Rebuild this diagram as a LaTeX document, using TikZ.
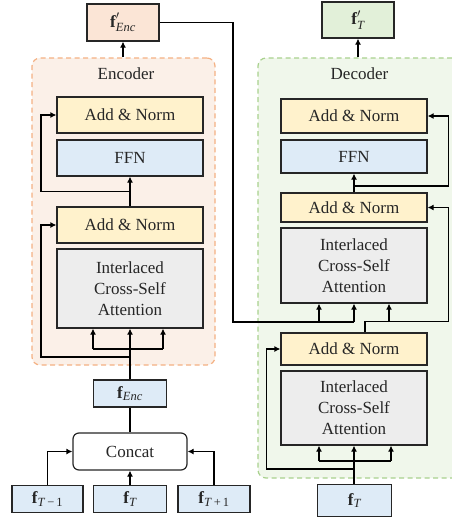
\documentclass[tikz,border=0pt]{standalone}
\usepackage{amsmath}
\usepackage{fontspec}
\setmainfont{Liberation Serif}
\usetikzlibrary{arrows.meta,calc}
\DeclareMathSizes{17}{17}{12.5}{10}

\definecolor{ink}{HTML}{262626}
\definecolor{normfill}{HTML}{FFF2CC}
\definecolor{ffnfill}{HTML}{DEEBF7}
\definecolor{attfill}{HTML}{EDEDED}
\definecolor{encbg}{HTML}{FBF0E8}
\definecolor{encline}{HTML}{F4B183}
\definecolor{encout}{HTML}{FBE5D6}
\definecolor{decbg}{HTML}{F0F7EB}
\definecolor{decline}{HTML}{A9D18E}
\definecolor{decout}{HTML}{E2F0D9}

% feature symbols: bold f with an italic subscript
\newcommand{\feat}[2]{$\text{\bfseries f}#1_{\text{\itshape #2}}$}

\tikzset{
  every node/.style={font=\fontsize{17}{21}\selectfont, text=ink},
  blk/.style={draw=ink, line width=1.2pt, rectangle, inner sep=0pt, align=center},
  normblk/.style={blk, fill=normfill, minimum width=146pt},
  ffnblk/.style={blk, fill=ffnfill, minimum width=146pt},
  attblk/.style={blk, fill=attfill, minimum width=146pt},
  featblk/.style={blk, fill=ffnfill},
  container/.style={rectangle, rounded corners=8pt, line width=1.2pt, dash pattern=on 5pt off 3.5pt, inner sep=0pt},
  ln/.style={draw=black, line width=1.3pt},
  arr/.style={ln, -{Latex[length=6pt,width=6pt]}},
}

\begin{document}
\begin{tikzpicture}[x=1pt, y=-1pt]
\useasboundingbox (0,0) rectangle (452,522);

% ---------------- Encoder ----------------
\node[container, draw=encline, fill=encbg, minimum width=183pt, minimum height=307pt] (enc) at (123.5,211.5) {};
\node (enclbl) at (126,74) {Encoder};
\node[normblk, minimum height=36pt] (an1) at (130,115) {Add \& Norm};
\node[ffnblk, minimum height=36pt] (ffn) at (130,158) {FFN};
\node[normblk, minimum height=36pt] (an2) at (130,225) {Add \& Norm};
\node[attblk, minimum height=79pt] (icsa) at (130,288.5) {Interlaced\\Cross-Self\\Attention};

\node[blk, fill=encout, minimum width=72pt, minimum height=37pt] (fpe) at (123,22.5) {\feat{'}{Enc}};
\node[featblk, minimum width=73pt, minimum height=27pt] (fenc) at (130,393.5) {\feat{}{Enc}};
\node[blk, fill=white, rounded corners=6pt, minimum width=114pt, minimum height=37pt] (concat) at (130,451.5) {Concat};
\node[featblk, minimum width=71pt, minimum height=26.5pt] (ftm1) at (47.5,499) {\feat{}{T\textup{\,−\,1}}};
\node[featblk, minimum width=73pt, minimum height=26.5pt] (ft) at (130,499) {\feat{}{T}};
\node[featblk, minimum width=72pt, minimum height=26.5pt] (ftp1) at (214,499) {\feat{}{T\textup{\,+\,1}}};

% encoder wiring
\coordinate (ebL) at (93,349);
\coordinate (ebR) at (163,349);
\coordinate (es1) at (130,357);
\coordinate (es2) at (130,191.7);
\draw[arr] (fenc.north) -- (icsa.south);
\draw[ln] (ebL) -- (ebR);
\draw[arr] (ebL) -- (ebL |- icsa.south);
\draw[arr] (ebR) -- (ebR |- icsa.south);
\draw[arr] (es1) -| ($(an2.west)+(-15.3,0)$) -- (an2.west);
\draw[arr] (an2.north) -- (ffn.south);
\draw[arr] (es2) -| ($(an1.west)+(-15.3,0)$) -- (an1.west);
\draw[arr] (fpe.south |- enc.north) -- (fpe.south);

\draw[ln] (fenc.south) -- (concat.north);
\draw[arr] (ftm1.north) |- (concat.west);
\draw[arr] (ft.north) -- (concat.south);
\draw[arr] (ftp1.north) |- (concat.east);

% ---------------- Decoder ----------------
\node[container, draw=decline, fill=decbg, minimum width=202pt, minimum height=420pt] (dec) at (359,268) {};
\node (declbl) at (359.5,74) {Decoder};
\node[blk, fill=decout, minimum width=72pt, minimum height=36pt] (fpt) at (358,20) {\feat{'}{T}};
\node[normblk, minimum height=34pt] (dan1) at (354,116) {Add \& Norm};
\node[ffnblk, minimum height=33pt] (dffn) at (354,156.5) {FFN};
\node[normblk, minimum height=29pt] (dan2) at (354,207.5) {Add \& Norm};
\node[attblk, minimum height=75pt] (dicsa) at (354,265.5) {Interlaced\\Cross-Self\\Attention};
\node[normblk, minimum height=32pt] (dan3) at (354,349) {Add \& Norm};
\node[attblk, minimum height=74pt] (dicsa2) at (354,408) {Interlaced\\Cross-Self\\Attention};
\node[featblk, minimum width=73.5pt, minimum height=32.5pt] (dft) at (354.5,500.5) {\feat{}{T}};

% decoder wiring
\draw[arr] (fpt.south |- dec.north) -- (fpt.south);
\draw[arr] (dan2.north) -- (dffn.south);
\coordinate (ds1) at (354,186);
\draw[arr] (ds1) -| ($(dan1.east)+(21,0)$) -- (dan1.east);

\coordinate (dcross) at (233,322);
\coordinate (dj1) at (319,322);
\coordinate (dj2) at (354,322);
\coordinate (dj3) at (389,322);
\draw[ln] (fpe.east) -| (dcross) -- (dj2);
\draw[arr] (dj1) -- (dj1 |- dicsa.south);
\draw[arr] (dj2) -- (dicsa.south);
\draw[arr] ($(dan3.north)+(11,0)$) -- ++(0,-11) -| ($(dan2.east)+(21,0)$) -- (dan2.east);
\draw[arr] (dj3) -- (dj3 |- dicsa.south);

\coordinate (dbL) at (319,461);
\coordinate (dbR) at (391,461);
\coordinate (ds3) at (354,469);
\draw[arr] (dft.north -| dicsa2.south) -- (dicsa2.south);
\draw[ln] (dbL) -- (dbR);
\draw[arr] (dbL) -- (dbL |- dicsa2.south);
\draw[arr] (dbR) -- (dbR |- dicsa2.south);
\draw[arr] (ds3) -| ($(dan3.west)+(-14,0)$) -- (dan3.west);
\end{tikzpicture}
\end{document}
